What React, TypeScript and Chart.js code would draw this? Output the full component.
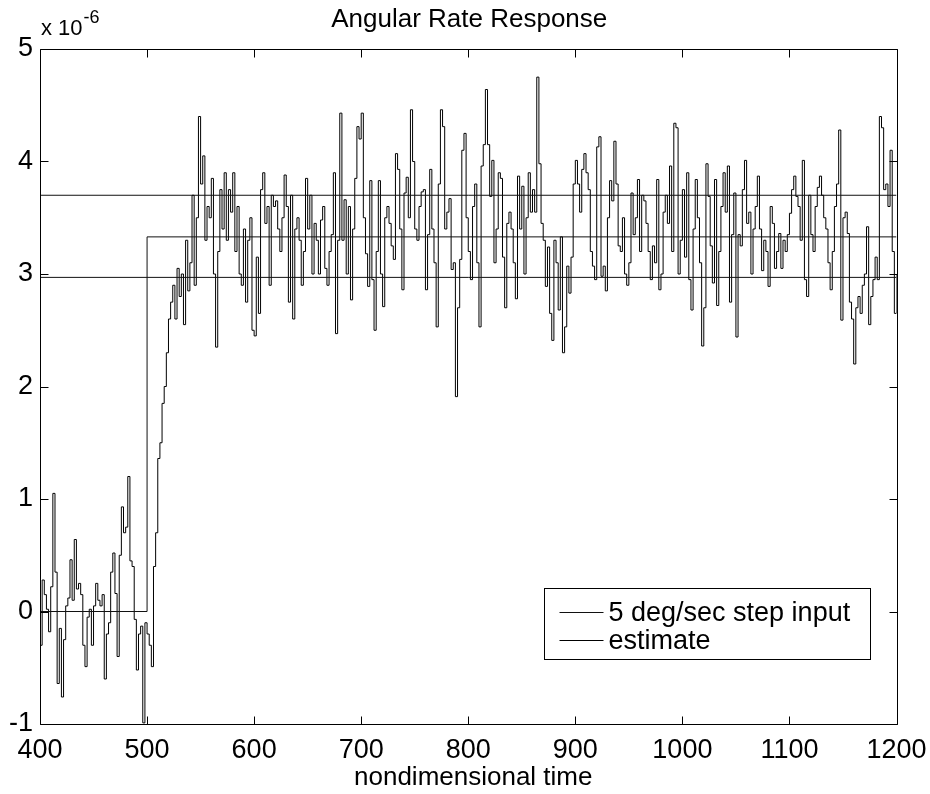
import React, { useEffect, useRef } from 'react';
import { Chart, registerables } from 'chart.js';

Chart.register(...registerables);

// ---------------- data (values in units of 1e-6) ----------------
const T_START = 400;
const T_STEP = 2;

const estimateValues: number[] = [
  // 400-418
  -0.30, 0.28, 0.15, 0.02, -0.18, 0.22, 1.05, 0.35, -0.64, -0.15,
  // 420-438
  -0.76, -0.25, 0.05, 0.12, 0.46, 0.10, 0.64, 0.20, 0.25, 0.15,
  // 440-458
  -0.30, -0.49, -0.05, 0.02, -0.30, 0.05, 0.25, 0.10, 0.05, 0.15,
  // 460-478
  -0.60, -0.20, -0.10, 0.35, 0.52, 0.16, -0.40, 0.50, 0.93, 0.70,
  // 480-498
  0.75, 1.20, 0.45, 0.40, -0.07, -0.52, -0.20, -0.13, -0.99, -0.10,
  // 500-518
  -0.20, -0.30, -0.49, 0.40, 0.70, 1.36, 1.50, 1.85, 2.00, 2.30,
  // 520-538
  2.60, 2.75, 2.90, 2.60, 3.05, 2.80, 3.00, 2.55, 3.30, 2.85,
  // 540-558
  3.10, 3.70, 2.90, 3.50, 4.40, 3.80, 4.05, 3.30, 3.60, 3.50,
  // 560-578
  3.85, 3.00, 2.35, 3.20, 3.75, 3.40, 3.90, 3.30, 3.75, 3.55,
  // 580-598
  3.90, 3.20, 3.60, 3.00, 2.90, 3.40, 2.75, 3.30, 3.50, 2.50,
  // 600-618
  2.45, 3.15, 2.65, 3.75, 3.90, 3.45, 3.60, 2.90, 3.70, 3.60,
  // 620-638
  3.65, 3.40, 3.20, 3.50, 3.88, 3.60, 2.75, 3.70, 2.60, 3.40,
  // 640-658
  3.50, 3.30, 2.90, 3.20, 3.85, 3.40, 3.70, 3.00, 3.45, 3.30,
  // 660-678
  3.00, 3.48, 3.60, 3.05, 2.90, 3.20, 3.35, 3.90, 2.47, 3.30,
  // 680-698
  4.43, 3.30, 3.66, 3.00, 3.60, 2.77, 3.40, 3.85, 4.31, 4.20,
  // 700-718
  4.43, 3.50, 3.18, 2.89, 3.83, 2.95, 2.50, 3.20, 3.83, 3.00,
  // 720-738
  2.71, 3.50, 3.60, 3.45, 3.25, 3.13, 4.07, 3.93, 3.40, 2.86,
  // 740-758
  3.72, 3.86, 3.50, 4.46, 4.00, 3.40, 3.30, 3.60, 3.73, 3.75,
  // 760-778
  2.86, 3.35, 3.93, 3.40, 3.10, 2.53, 3.80, 4.46, 4.31, 3.40,
  // 780-798
  3.55, 3.67, 3.04, 3.10, 1.91, 2.70, 3.13, 4.10, 4.25, 3.50,
  // 800-818
  3.20, 2.95, 3.60, 3.80, 3.10, 2.53, 3.96, 4.15, 4.64, 4.15,
  // 820-838
  3.69, 4.01, 3.10, 3.40, 3.90, 3.85, 3.15, 2.70, 3.45, 3.55,
  // 840-858
  3.40, 3.10, 2.78, 3.87, 3.40, 3.78, 3.00, 3.50, 3.90, 3.55,
  // 860-878
  3.75, 3.55, 4.75, 3.98, 3.45, 3.30, 2.89, 3.24, 2.65, 2.41,
  // 880-898
  3.30, 3.10, 2.68, 3.33, 2.30, 2.53, 3.07, 2.83, 3.15, 3.80,
  // 900-918
  4.01, 3.80, 3.55, 3.93, 4.07, 3.90, 3.75, 3.20, 3.07, 2.95,
  // 920-938
  4.13, 4.22, 2.98, 3.07, 2.85, 3.50, 3.83, 3.65, 4.18, 3.80,
  // 940-958
  3.25, 3.20, 3.50, 3.00, 2.90, 3.10, 3.72, 3.35, 3.50, 3.84,
  // 960-978
  3.20, 3.70, 3.65, 3.45, 3.20, 2.95, 3.25, 3.10, 3.84, 2.86,
  // 980-998
  3.00, 3.55, 3.70, 3.45, 3.96, 3.20, 4.34, 4.30, 3.00, 3.30,
  // 1000-1018
  3.75, 3.15, 3.90, 2.95, 2.68, 3.40, 3.84, 3.50, 3.10, 2.36,
  // 1020-1038
  2.70, 3.98, 3.69, 3.25, 2.92, 3.84, 2.72, 3.20, 3.60, 3.90,
  // 1040-1058
  3.55, 3.96, 2.75, 3.35, 3.72, 2.44, 3.35, 3.25, 3.75, 4.01,
  // 1060-1078
  3.45, 3.55, 3.00, 3.40, 3.60, 3.87, 3.40, 3.03, 3.30, 3.20,
  // 1080-1098
  2.89, 3.60, 3.45, 3.05, 3.20, 3.36, 3.05, 3.30, 3.20, 3.35,
  // 1100-1118
  3.54, 3.75, 3.87, 3.69, 3.60, 3.30, 4.01, 2.95, 2.80, 3.70,
  // 1120-1138
  3.35, 3.20, 3.60, 3.77, 3.87, 3.70, 3.50, 3.40, 3.10, 2.86,
  // 1140-1158
  3.20, 3.60, 3.80, 4.28, 2.59, 3.50, 3.55, 3.36, 2.75, 2.60,
  // 1160-1178
  2.20, 2.70, 2.80, 2.65, 2.90, 3.00, 3.42, 2.55, 2.80, 2.95,
  // 1180-1198
  3.15, 2.95, 4.40, 4.30, 3.75, 3.80, 3.60, 4.10, 3.20, 2.65,
  // 1200
  3.00,
];

const stepTimes = [400, 500, 500, 1200];
const stepValues = [0, 0, 3.33, 3.33];

const boundTimes = [400, 1200];
const upperBoundValues = [3.7, 3.7];
const lowerBoundValues = [2.97, 2.97];

const xTickValues = [400, 500, 600, 700, 800, 900, 1000, 1100, 1200];
const yTickValues = [-1, 0, 1, 2, 3, 4, 5];

const TITLE = 'Angular Rate Response';
const X_LABEL = 'nondimensional time';
const EXPONENT_BASE = 'x 10';
const EXPONENT_POWER = '-6';
const STEP_LABEL = '5 deg/sec step input';
const ESTIMATE_LABEL = 'estimate';

const FONT = "'Liberation Sans', Arial, Helvetica, sans-serif";

const decorPlugin = {
  id: 'matlabDecor',
  afterDraw(chart: any) {
    const { ctx, chartArea } = chart;
    const xs = chart.scales.x;
    const ys = chart.scales.y;
    const L = Math.round(chartArea.left) + 0.5;
    const R = Math.round(chartArea.right) + 0.5;
    const T = Math.round(chartArea.top) + 0.5;
    const B = Math.round(chartArea.bottom) + 0.5;
    ctx.save();
    ctx.strokeStyle = '#000';
    ctx.lineWidth = 1;
    ctx.beginPath();
    ctx.rect(L, T, R - L, B - T);
    ctx.stroke();

    const TL = 8;
    ctx.beginPath();
    xTickValues.forEach((v) => {
      const px = Math.round(xs.getPixelForValue(v)) + 0.5;
      ctx.moveTo(px, B);
      ctx.lineTo(px, B - TL);
      ctx.moveTo(px, T);
      ctx.lineTo(px, T + TL);
    });
    yTickValues.forEach((v) => {
      const py = Math.round(ys.getPixelForValue(v)) + 0.5;
      ctx.moveTo(L, py);
      ctx.lineTo(L + TL, py);
      ctx.moveTo(R, py);
      ctx.lineTo(R - TL, py);
    });
    ctx.stroke();

    ctx.fillStyle = '#000';
    // title
    ctx.font = `26px ${FONT}`;
    ctx.textAlign = 'center';
    ctx.textBaseline = 'alphabetic';
    ctx.fillText(TITLE, (chartArea.left + chartArea.right) / 2 + 1, 27);
    // x label
    ctx.font = `26px ${FONT}`;
    ctx.fillText(X_LABEL, (chartArea.left + chartArea.right) / 2 + 5, 785);
    // exponent
    ctx.textAlign = 'left';
    ctx.font = `22px ${FONT}`;
    ctx.fillText(EXPONENT_BASE, chartArea.left + 1, 35);
    const w = ctx.measureText(EXPONENT_BASE).width;
    ctx.font = `18px ${FONT}`;
    ctx.fillText(EXPONENT_POWER, chartArea.left + 1 + w + 1, 23);

    // legend
    const boxR = Math.round(chartArea.right - 27) + 0.5;
    const boxB = Math.round(chartArea.bottom - 65) + 0.5;
    const boxW = 326;
    const boxH = 71;
    const boxL = boxR - boxW;
    const boxT = boxB - boxH;
    ctx.fillStyle = '#fff';
    ctx.fillRect(boxL, boxT, boxW, boxH);
    ctx.strokeStyle = '#000';
    ctx.strokeRect(boxL, boxT, boxW, boxH);
    const items = chart.data.datasets.filter((d: any) => d.inLegend);
    ctx.font = `27px ${FONT}`;
    ctx.textBaseline = 'middle';
    ctx.textAlign = 'left';
    items.forEach((d: any, i: number) => {
      const y = Math.round(boxT + 23 + i * 28.5) + 0.5;
      ctx.strokeStyle = d.borderColor;
      ctx.lineWidth = 1;
      ctx.beginPath();
      ctx.moveTo(boxL + 15, y);
      ctx.lineTo(boxL + 59, y);
      ctx.stroke();
      ctx.fillStyle = '#000';
      ctx.fillText(d.label, boxL + 64, y + 1);
    });
    ctx.restore();
  },
};

export default function App() {
  const canvasRef = useRef<HTMLCanvasElement | null>(null);

  useEffect(() => {
    if (!canvasRef.current) return;
    const estimatePoints = estimateValues.map((v, i) => ({ x: T_START + i * T_STEP, y: v }));
    const stepPoints = stepTimes.map((t, i) => ({ x: t, y: stepValues[i] }));
    const upperPoints = boundTimes.map((t, i) => ({ x: t, y: upperBoundValues[i] }));
    const lowerPoints = boundTimes.map((t, i) => ({ x: t, y: lowerBoundValues[i] }));

    const common = { borderWidth: 1, pointRadius: 0, fill: false, tension: 0 };
    const chart = new Chart(canvasRef.current, {
      type: 'line',
      data: {
        datasets: [
          { ...common, label: 'upper bound', data: upperPoints, borderColor: '#111' },
          { ...common, label: 'lower bound', data: lowerPoints, borderColor: '#111' },
          { ...common, label: STEP_LABEL, data: stepPoints, borderColor: '#111', inLegend: true } as any,
          { ...common, label: ESTIMATE_LABEL, data: estimatePoints, borderColor: '#000', stepped: true, inLegend: true } as any,
        ],
      },
      options: {
        animation: false,
        responsive: true,
        maintainAspectRatio: false,
        parsing: false,
        normalized: true,
        layout: { padding: { top: 49, right: 33.5, left: 0, bottom: 0 } },
        plugins: { legend: { display: false }, tooltip: { enabled: false }, title: { display: false } },
        scales: {
          x: {
            type: 'linear',
            min: 400,
            max: 1200,
            grid: { display: false, drawTicks: false },
            border: { display: false },
            ticks: {
              font: { size: 27, family: FONT },
              color: '#000',
              padding: 10,
              maxRotation: 0,
              callback: (v: any) => String(v),
            },
            afterBuildTicks: (s: any) => { s.ticks = xTickValues.map((v) => ({ value: v })); },
            afterFit: (s: any) => { s.height = 70; s.paddingLeft = 0; s.paddingRight = 0; },
          },
          y: {
            type: 'linear',
            min: -1,
            max: 5,
            grid: { display: false, drawTicks: false },
            border: { display: false },
            ticks: {
              font: { size: 27, family: FONT },
              color: '#000',
              padding: 7,
              callback: (v: any) => String(v),
            },
            afterBuildTicks: (s: any) => { s.ticks = yTickValues.map((v) => ({ value: v })); },
            afterFit: (s: any) => { s.width = 40; s.paddingTop = 0; s.paddingBottom = 0; },
          },
        },
      },
      plugins: [decorPlugin],
    });
    return () => chart.destroy();
  }, []);

  return (
    <div style={{ position: 'fixed', left: 0, top: 0, width: 930, height: 794, background: '#fff' }}>
      <canvas ref={canvasRef} />
    </div>
  );
}
